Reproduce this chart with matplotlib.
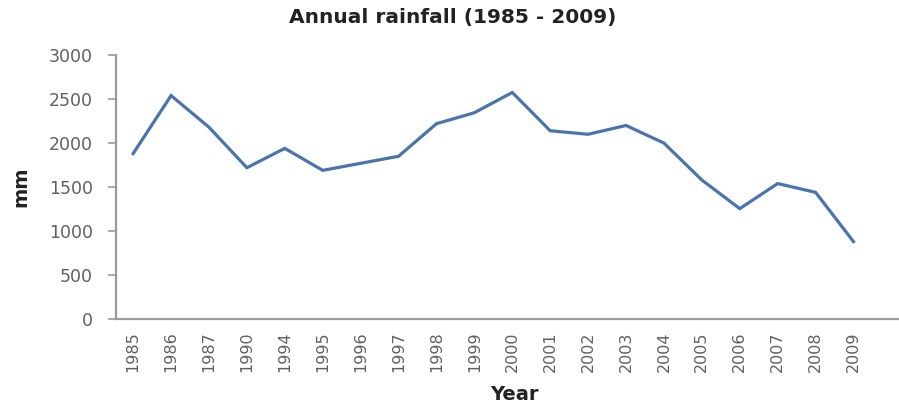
import matplotlib
matplotlib.use("Agg")
import matplotlib.pyplot as plt

years = ["1985", "1986", "1987", "1990", "1994", "1995", "1996", "1997", "1998", "1999",
         "2000", "2001", "2002", "2003", "2004", "2005", "2006", "2007", "2008", "2009"]
rainfall = [1880, 2540, 2180, 1720, 1940, 1690, 1770, 1850, 2220, 2345,
            2575, 2140, 2100, 2200, 2000, 1580, 1255, 1540, 1440, 880]
yticks = [0, 500, 1000, 1500, 2000, 2500, 3000]

fig = plt.figure(figsize=(8.99, 4.08), dpi=100)
ax = fig.add_axes([0.1287, 0.218, 0.8713, 0.647])

x = list(range(len(years)))
ax.plot(x, rainfall, color="#4a74ad", linewidth=2.3, solid_joinstyle="miter")

ax.set_xlim(-0.46, 20.2)
ax.set_ylim(0, 3000)
ax.set_xticks(x)
ax.set_xticklabels(years, rotation=90, fontsize=11.5, color="#606060")
ax.set_yticks(yticks)
ax.set_yticklabels([str(v) for v in yticks], fontsize=12.5, color="#606060")

for s in ["top", "right"]:
    ax.spines[s].set_visible(False)
for s in ["left", "bottom"]:
    ax.spines[s].set_color("#9a9a9a")
    ax.spines[s].set_linewidth(1.6)
ax.tick_params(axis="x", length=0, pad=9)
ax.tick_params(axis="y", length=5.5, width=1.2, color="#9a9a9a", pad=11)

fig.text(453 / 899, 1 - 18 / 408, "Annual rainfall (1985 - 2009)", fontsize=14.5,
         fontweight="bold", color="#222222", ha="center", va="center")
fig.text(21 / 899, 1 - 187 / 408, "mm", fontsize=14, fontweight="bold",
         color="#222222", ha="center", va="center", rotation=90)
fig.text(514 / 899, 1 - 395 / 408, "Year", fontsize=14, fontweight="bold",
         color="#222222", ha="center", va="center")

fig.savefig("out.png", dpi=100)
